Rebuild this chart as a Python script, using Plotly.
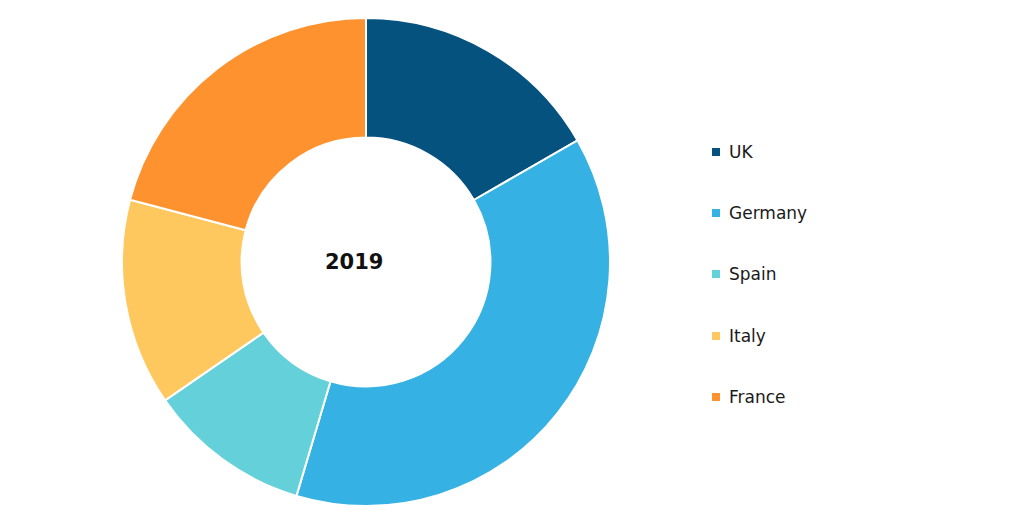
import plotly.graph_objects as go

countries = ["UK", "Germany", "Spain", "Italy", "France"]
shares = [16.7, 37.9, 10.8, 13.7, 20.9]
colors = ["#05527F", "#35B1E3", "#63D0DA", "#FEC85E", "#FE922E"]
center_label = "2019"

W, H = 1016, 523
OX, OY = 8, 8  # page offset of the plot in the browser

def px(x):
    return (x - OX) / W

def py_(y):
    return 1 - (y - OY) / H

fig = go.Figure()
fig.add_trace(go.Pie(
    labels=countries,
    values=shares,
    hole=0.51,
    sort=False,
    direction="clockwise",
    rotation=0,
    marker=dict(colors=colors, line=dict(color="white", width=2)),
    textinfo="none",
    hoverinfo="label+percent",
    domain=dict(x=[px(122), px(610)], y=[py_(506), py_(18)]),
    showlegend=False,
))

fig.add_annotation(
    x=px(354), y=py_(262), xref="paper", yref="paper",
    text="<b>" + center_label + "</b>", showarrow=False,
    font=dict(family="DejaVu Sans, sans-serif", size=21, color="#111111"),
    xanchor="center", yanchor="middle",
)

legend_y = [152, 213, 274, 336, 397]
for name, col, ly in zip(countries, colors, legend_y):
    fig.add_shape(
        type="rect", xref="paper", yref="paper",
        x0=px(712), x1=px(720), y0=py_(ly + 4), y1=py_(ly - 4),
        fillcolor=col, line=dict(width=0),
    )
    fig.add_annotation(
        x=px(727), y=py_(ly), xref="paper", yref="paper",
        text=name, showarrow=False, xanchor="left", yanchor="middle",
        font=dict(family="DejaVu Sans, sans-serif", size=17, color="#1a1a1a"),
    )

fig.update_layout(
    width=W, height=H,
    margin=dict(l=0, r=0, t=0, b=0),
    paper_bgcolor="white",
    plot_bgcolor="white",
)

fig.write_html("out.html")
